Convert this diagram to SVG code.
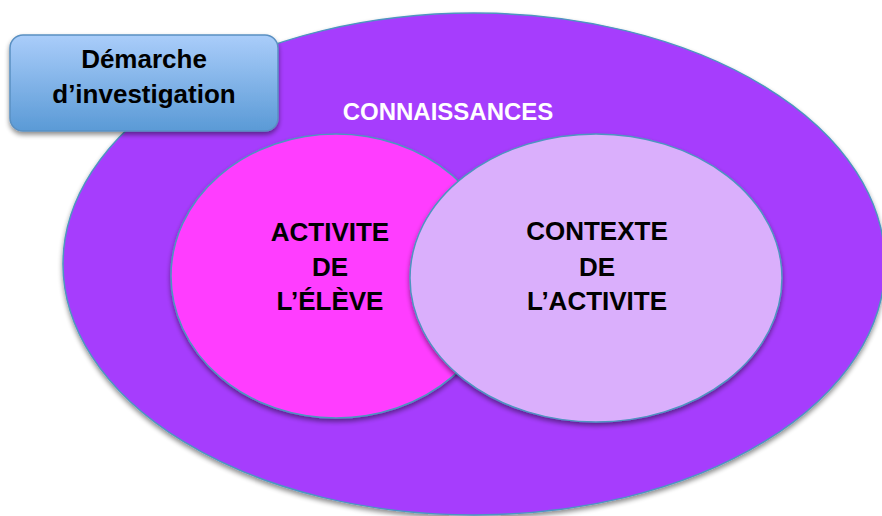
<svg xmlns="http://www.w3.org/2000/svg" width="882" height="516" viewBox="0 0 882 516">
<defs>
<filter id="sh" x="-10%" y="-10%" width="120%" height="125%">
<feGaussianBlur in="SourceAlpha" stdDeviation="2.5"/>
<feOffset dx="0" dy="3" result="b"/>
<feComponentTransfer><feFuncA type="linear" slope="0.45"/></feComponentTransfer>
<feMerge><feMergeNode/><feMergeNode in="SourceGraphic"/></feMerge>
</filter>
<linearGradient id="bg" x1="0" y1="0" x2="0" y2="1">
<stop offset="0" stop-color="#AACDFA"/>
<stop offset="1" stop-color="#5A9AD6"/>
</linearGradient>
</defs>
<style>
.e{stroke:#4E95C0;stroke-width:1.5;filter:url(#sh)}
.t{font-family:"Liberation Sans",Arial,sans-serif;font-weight:bold;font-size:26px;text-anchor:middle;fill:#000}
</style>
<rect width="882" height="516" fill="#fff"/>
<g id="connaissances">
<ellipse class="e" cx="474" cy="264" rx="411" ry="251" fill="#A63DFD"/>
<text class="t" x="448" y="120" style="font-size:24px;fill:#fff">CONNAISSANCES</text>
</g>
<g id="activite-eleve">
<ellipse class="e" cx="336" cy="276" rx="165" ry="142" fill="#FF3DFF"/>
<text class="t" x="330" y="241">ACTIVITE</text>
<text class="t" x="330" y="276">DE</text>
<text class="t" x="330" y="310">L’ÉLÈVE</text>
</g>
<g id="contexte-activite">
<ellipse class="e" cx="596" cy="278" rx="186" ry="144" fill="#DAAFFC"/>
<text class="t" x="597" y="240">CONTEXTE</text>
<text class="t" x="597" y="276">DE</text>
<text class="t" x="597" y="310">L’ACTIVITE</text>
</g>
<g id="demarche">
<rect x="10" y="35" width="268" height="96" rx="13" fill="url(#bg)" stroke="#5A90C2" stroke-width="1.5" filter="url(#sh)"/>
<text class="t" x="144" y="68">Démarche</text>
<text class="t" x="144" y="103">d’investigation</text>
</g>
<g id="connectors"/>
</svg>
